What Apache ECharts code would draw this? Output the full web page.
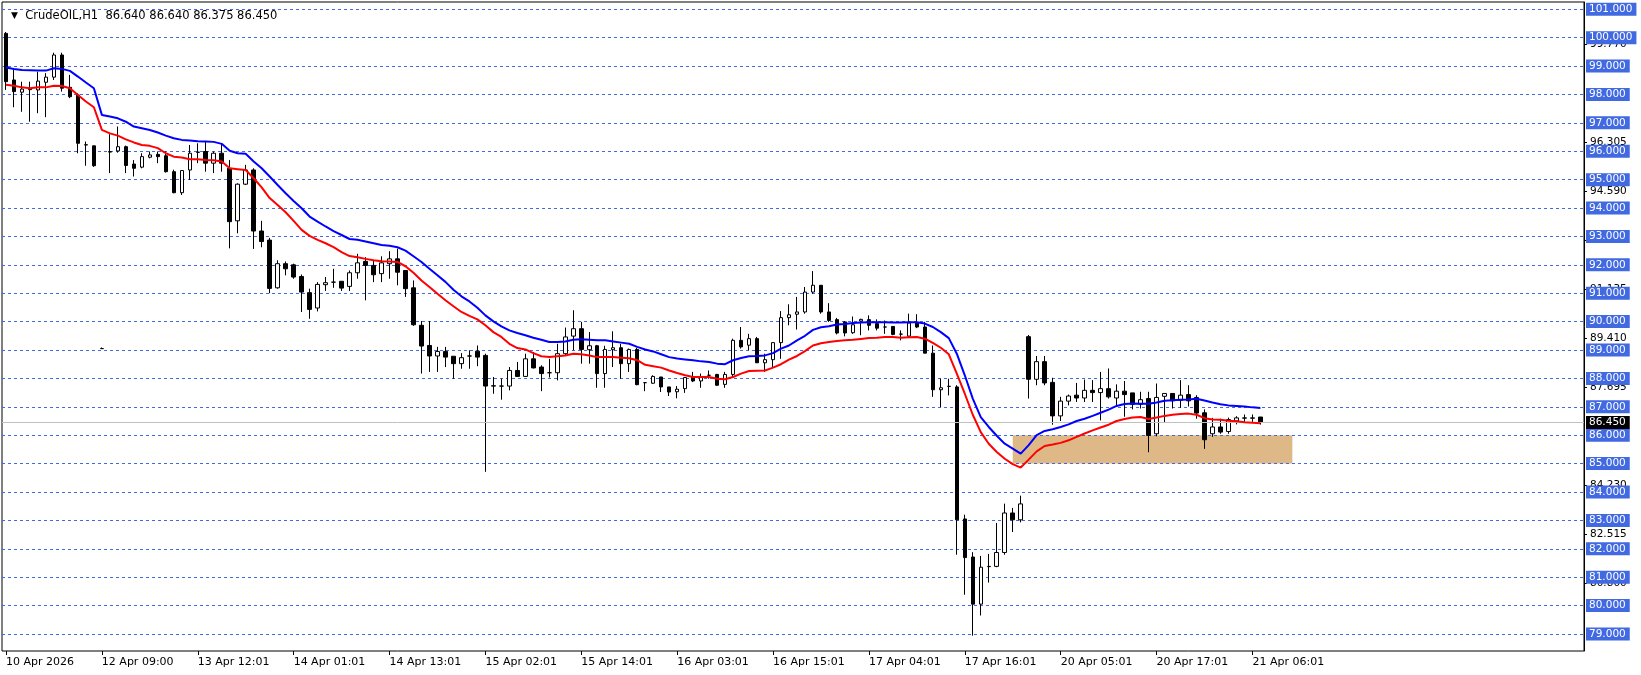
<!DOCTYPE html>
<html><head><meta charset="utf-8">
<script src="https://cdn.jsdelivr.net/npm/echarts@6/dist/echarts.min.js"></script>
<style>html,body{margin:0;padding:0;background:#fff}#c{width:1641px;height:675px}</style>
</head><body><div id="c"></div>
<script>
// ---- data ----
const sessions = [
  ['10 Apr', 12, 23, ':01'], ['12 Apr', 9, 9, ':00'], ['13 Apr', 1, 23, ':01'], ['14 Apr', 1, 23, ':01'],
  ['15 Apr', 1, 23, ':01'], ['16 Apr', 1, 23, ':01'], ['17 Apr', 1, 23, ':01'], ['20 Apr', 1, 23, ':01'],
  ['21 Apr', 1, 7, ':01']
];
const tickLabels = ['10 Apr 2026','12 Apr 09:00','13 Apr 12:01','14 Apr 01:01','14 Apr 13:01','15 Apr 02:01',
  '15 Apr 14:01','16 Apr 03:01','16 Apr 15:01','17 Apr 04:01','17 Apr 16:01','20 Apr 05:01','20 Apr 17:01','21 Apr 06:01'];
const tickStep = 12;
const totalSlots = 198;

const opens = [
100.15,98.51,98.08,98.17,98.16,98.43,98.61,99.39,98.25,97.98,
96.22,96.19,89.05,95.97,96.01,96.16,95.55,95.44,95.79,95.89,
95.84,95.28,94.54,95.34,95.96,95.99,95.58,95.93,95.40,93.55,
94.84,95.34,93.19,92.87,91.19,92.04,92.00,91.59,91.02,90.48,
91.30,91.39,91.42,91.24,91.72,92.12,91.98,91.69,92.04,92.21,
91.80,91.19,89.87,89.16,88.79,88.95,88.78,88.52,88.79,88.96,
88.81,87.74,87.73,87.73,88.28,88.07,88.69,88.40,88.20,88.20,
88.87,89.49,89.75,89.01,89.15,88.17,89.01,89.08,88.52,89.02,
87.85,87.83,88.05,87.70,87.53,87.64,88.05,87.91,88.11,88.14,
87.79,88.14,89.34,89.17,89.40,88.55,88.66,89.26,90.14,90.26,
90.34,91.04,91.28,90.34,90.07,89.99,89.61,90.02,90.07,89.93,
89.81,89.83,89.56,89.49,89.95,89.81,88.89,87.60,87.72,87.70,
83.05,81.71,80.05,81.37,81.38,81.87,83.26,83.02,89.47,87.97,
88.59,87.86,86.68,87.20,87.41,87.31,87.58,87.50,87.64,87.31,
87.55,87.49,87.09,87.29,86.05,87.37,87.47,87.23,87.43,87.33,
86.79,86.05,86.29,86.13,86.50,86.60,86.60,86.64];
const closes = [
98.45,98.10,98.19,98.19,98.47,98.61,99.39,98.22,97.92,96.28,
96.23,95.49,89.05,95.99,96.16,95.50,95.40,95.81,95.87,95.81,
95.28,94.54,95.32,95.93,95.97,95.58,95.93,95.58,93.52,94.84,
95.34,93.19,92.82,91.17,92.04,91.86,91.57,91.04,90.43,91.31,
91.37,91.39,91.18,91.72,92.07,91.98,91.65,92.07,92.21,91.74,
91.16,89.89,89.14,88.79,88.95,88.75,88.52,88.73,88.79,88.75,
87.73,87.73,87.73,88.28,88.07,88.69,88.37,88.17,88.20,88.87,
89.46,89.75,89.02,89.15,88.17,89.02,89.08,88.52,89.02,87.78,
87.85,88.07,87.70,87.52,87.62,88.03,87.91,88.05,88.11,87.76,
88.14,89.34,89.11,89.40,88.55,88.66,89.26,90.14,90.24,90.34,
91.04,91.28,90.34,90.04,89.60,89.60,89.89,90.08,89.87,89.77,
89.81,89.55,89.56,89.95,89.81,88.89,87.60,87.67,87.72,83.02,
81.69,80.05,81.35,81.38,81.87,83.26,83.02,83.58,87.97,88.59,
87.84,86.68,87.20,87.38,87.31,87.58,87.50,87.64,87.35,87.55,
87.43,87.09,87.25,85.99,87.33,87.47,87.21,87.41,87.21,86.78,
85.84,86.29,86.11,86.55,86.61,86.61,86.61,86.45];
const lows = [
98.16,97.55,97.39,97.04,97.34,97.20,98.51,98.10,97.87,95.93,
95.49,95.45,89.04,95.23,95.95,95.23,95.11,95.40,95.75,95.58,
95.25,94.52,94.46,94.99,95.58,95.28,95.23,95.28,92.58,93.11,
94.81,92.56,92.62,91.00,91.16,91.63,91.51,90.34,90.10,90.36,
91.08,91.19,91.08,91.08,91.51,90.75,91.39,91.39,91.51,91.28,
90.87,89.85,88.17,88.23,88.23,88.40,87.99,88.34,88.34,88.43,
84.71,87.46,87.25,87.58,88.05,88.05,88.35,87.55,88.03,87.93,
88.81,88.99,88.52,88.52,87.67,87.67,88.40,87.99,88.23,87.76,
87.55,87.81,87.52,87.38,87.30,87.49,87.87,87.67,87.99,87.74,
87.67,88.05,89.05,88.99,88.55,88.23,88.40,88.69,89.87,89.72,
90.28,90.98,90.28,89.99,89.55,89.48,89.57,89.52,89.69,89.69,
89.57,89.52,89.34,89.46,89.77,88.89,87.35,86.99,87.40,81.79,
80.38,78.94,79.65,80.81,81.35,81.79,82.59,82.93,87.29,87.76,
87.76,86.37,86.50,87.05,87.17,87.17,87.17,86.52,87.29,87.00,
86.65,86.91,86.94,85.40,85.96,86.43,86.94,86.96,87.01,86.58,
85.52,85.94,86.05,86.05,86.38,86.47,86.47,86.375];
const highs = [
100.20,98.92,98.45,98.45,98.80,98.75,99.47,99.47,98.69,98.04,
96.34,96.20,89.09,96.60,96.87,96.20,95.69,95.93,95.99,95.99,
95.99,95.35,95.34,96.22,96.28,96.34,95.99,96.28,95.69,94.87,
95.52,95.40,93.55,92.95,92.16,92.12,92.04,91.66,91.16,91.39,
91.57,91.86,91.42,91.80,92.39,92.27,92.16,92.30,92.48,92.57,
91.80,91.45,90.02,90.02,89.11,89.11,88.78,88.89,88.99,89.16,
88.87,88.05,87.99,88.40,88.58,88.87,88.93,88.46,88.69,89.22,
89.79,90.40,89.99,89.63,89.18,89.15,89.66,89.22,89.05,89.08,
87.87,88.11,88.05,87.70,87.73,88.05,88.23,88.17,88.28,88.16,
88.23,89.40,89.81,89.57,89.46,88.87,89.28,90.37,90.61,90.87,
91.22,91.78,91.28,90.65,90.13,90.02,90.18,90.10,90.22,90.08,
90.04,89.83,89.69,90.28,90.26,89.99,89.16,87.99,87.99,87.76,
83.20,81.88,81.75,81.82,82.91,83.59,83.44,83.87,89.53,88.79,
88.79,88.02,87.35,87.43,87.84,87.96,87.94,88.23,88.35,87.79,
87.91,87.49,87.53,87.53,87.82,87.47,87.47,87.94,87.76,87.41,
86.91,86.61,86.58,86.62,86.67,86.73,86.73,86.64];
const maBlue = [
98.95,98.90,98.86,98.85,98.84,98.84,98.92,98.90,98.83,98.63,
98.42,98.22,97.28,97.22,97.16,97.04,96.87,96.81,96.75,96.66,
96.55,96.46,96.40,96.38,96.35,96.34,96.33,96.26,96.02,95.93,
95.91,95.64,95.40,95.11,94.81,94.52,94.25,93.99,93.70,93.52,
93.35,93.19,93.05,92.91,92.88,92.82,92.76,92.70,92.67,92.62,
92.50,92.30,92.10,91.86,91.63,91.40,91.12,90.89,90.71,90.49,
90.22,90.01,89.83,89.69,89.60,89.52,89.43,89.36,89.28,89.28,
89.30,89.36,89.38,89.36,89.34,89.34,89.30,89.26,89.22,89.11,
89.02,88.95,88.85,88.75,88.70,88.67,88.64,88.60,88.58,88.52,
88.50,88.64,88.72,88.78,88.79,88.81,88.89,89.05,89.16,89.34,
89.50,89.71,89.80,89.84,89.90,89.92,89.95,89.97,89.98,89.98,
89.98,89.97,89.97,89.98,89.98,89.93,89.81,89.63,89.42,88.87,
88.11,87.29,86.64,86.29,85.98,85.70,85.53,85.35,85.65,86.00,
86.15,86.21,86.29,86.38,86.50,86.58,86.68,86.79,86.90,87.03,
87.10,87.12,87.11,87.11,87.15,87.21,87.23,87.25,87.26,87.28,
87.22,87.15,87.09,87.05,87.03,87.01,86.98,86.96];
const maRed = [
98.34,98.31,98.25,98.22,98.25,98.25,98.31,98.30,98.22,97.98,
97.75,97.55,96.75,96.63,96.55,96.42,96.31,96.22,96.19,96.11,
95.93,95.81,95.78,95.72,95.72,95.69,95.68,95.64,95.40,95.37,
95.34,95.05,94.73,94.35,94.11,93.85,93.55,93.23,93.02,92.88,
92.76,92.62,92.45,92.31,92.27,92.21,92.16,92.13,92.12,92.10,
91.95,91.72,91.45,91.22,90.98,90.75,90.54,90.34,90.20,90.08,
89.87,89.63,89.46,89.22,89.07,89.02,88.89,88.78,88.75,88.78,
88.81,88.87,88.85,88.81,88.75,88.75,88.75,88.73,88.71,88.64,
88.48,88.43,88.38,88.28,88.19,88.11,88.05,88.05,88.05,87.99,
87.97,88.05,88.17,88.26,88.27,88.28,88.38,88.50,88.66,88.79,
88.96,89.16,89.24,89.28,89.32,89.34,89.36,89.39,89.42,89.43,
89.46,89.46,89.43,89.45,89.46,89.40,89.25,89.08,88.85,88.17,
87.46,86.72,86.11,85.70,85.41,85.17,84.98,84.86,85.14,85.43,
85.62,85.67,85.73,85.82,85.94,86.06,86.17,86.27,86.37,86.50,
86.57,86.62,86.64,86.57,86.62,86.68,86.72,86.75,86.76,86.72,
86.60,86.55,86.54,86.51,86.49,86.46,86.44,86.42];
const gridPrices = [79,80,81,82,83,84,85,86,87,88,89,90,91,92,93,94,95,96,97,98,99,100,101];
const scalePrices = [80.800,82.515,84.230,87.695,89.410,91.135,92.875,94.590,96.305,99.770];
const lastPrice = 86.450;
const zone = {from: 126, to: 161, low: 85, high: 86};
const titleText = 'CrudeOIL,H1  86.640 86.640 86.375 86.450';
const yMin = 78.4, yMax = 101.256;

// ---- categories ----
const categories = [];
sessions.forEach(([day, h0, h1, suf]) => {
  for (let h = h0; h <= h1; h++) categories.push(day + ' ' + String(h).padStart(2, '0') + suf);
});
while (categories.length < totalSlots) categories.push('');

const candleData = opens.map((o, i) => [o, closes[i], lows[i], highs[i]]);
const FONT = 'DejaVu Sans';
const GRID_BLUE = 'rgb(65,105,225)';
const showTick = (idx) => idx % tickStep === 0 && idx / tickStep < tickLabels.length;

const chart = echarts.init(document.getElementById('c'), null, {renderer: 'canvas'});
chart.setOption({
  animation: false,
  backgroundColor: '#fff',
  textStyle: {fontFamily: FONT},
  title: {
    text: '{tri|▼}  ' + titleText,
    left: 6, top: 5,
    textStyle: {fontSize: 11.5, fontWeight: 'normal', color: '#000', fontFamily: FONT,
      rich: {tri: {fontSize: 9, color: '#000', fontFamily: FONT}}}
  },
  grid: {left: 2, right: 57, top: 2, bottom: 24, show: true, borderColor: '#000', borderWidth: 1, backgroundColor: 'transparent'},
  xAxis: {
    type: 'category', data: categories, boundaryGap: true,
    axisLine: {show: false},
    axisTick: {show: true, alignWithLabel: true, interval: showTick, length: 4, lineStyle: {color: '#000'}},
    axisLabel: {interval: showTick, align: 'left', color: '#000', fontSize: 11, margin: 6, fontFamily: FONT,
      formatter: (v, idx) => tickLabels[idx / tickStep] || ''},
    splitLine: {show: false}
  },
  yAxis: [
    {
      type: 'value', min: yMin, max: yMax, position: 'right', z: 3,
      axisLine: {show: true, lineStyle: {color: '#000'}},
      axisTick: {show: false, customValues: gridPrices},
      axisLabel: {customValues: gridPrices, formatter: v => v.toFixed(3), color: '#fff', fontSize: 10.5, fontFamily: FONT,
        backgroundColor: GRID_BLUE, padding: [1, 4, 1, 3], margin: 2},
      splitLine: {show: true, lineStyle: {color: GRID_BLUE, type: [3, 3], width: 1}}
    },
    {
      type: 'value', min: yMin, max: yMax, position: 'right', z: 1,
      axisLine: {show: false},
      axisTick: {show: true, customValues: scalePrices, length: 3, lineStyle: {color: '#000'}},
      axisLabel: {customValues: scalePrices, formatter: v => v.toFixed(3), color: '#000', fontSize: 10.5, fontFamily: FONT, margin: 6},
      splitLine: {show: false}
    }
  ],
  series: [
    {
      type: 'candlestick', name: 'CrudeOIL', data: candleData, barWidth: 4, z: 4,
      itemStyle: {color: '#fff', color0: '#000', borderColor: '#000', borderColor0: '#000', borderWidth: 1},
      markArea: {
        silent: true,
        itemStyle: {color: 'rgb(222,184,135)', opacity: 1},
        data: [[{xAxis: zone.from, yAxis: zone.high}, {xAxis: zone.to, yAxis: zone.low}]]
      },
      markLine: {
        silent: true, symbol: ['none', 'none'],
        lineStyle: {color: '#c0c0c0', type: 'solid', width: 1},
        label: {position: 'end', formatter: lastPrice.toFixed(3), color: '#fff', backgroundColor: '#000',
          padding: [1, 4, 1, 3], fontSize: 10.5, fontFamily: FONT, distance: 2},
        data: [{yAxis: lastPrice}]
      }
    },
    {type: 'line', name: 'MA blue', data: maBlue, showSymbol: false, symbol: 'none', z: 6,
      lineStyle: {color: '#0000ff', width: 2}},
    {type: 'line', name: 'MA red', data: maRed, showSymbol: false, symbol: 'none', z: 6,
      lineStyle: {color: '#ff0000', width: 2}}
  ]
});
</script>
</body></html>
